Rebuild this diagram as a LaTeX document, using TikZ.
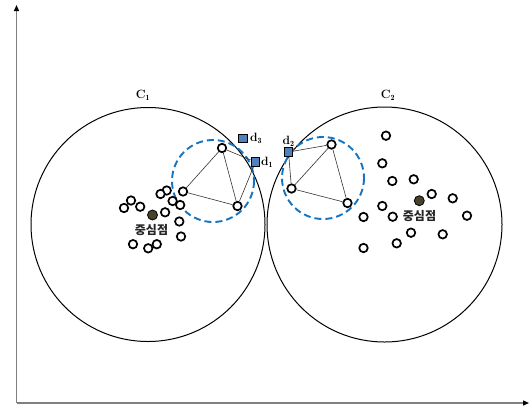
\documentclass[tikz,border=0pt]{standalone}
\usepackage{fontspec}
\newfontfamily\kor{Noto Sans CJK KR}
\usetikzlibrary{arrows.meta}
\definecolor{rangeblue}{RGB}{20,115,195}
\definecolor{sqfill}{RGB}{79,129,189}
\definecolor{hubfill}{RGB}{70,66,45}
\definecolor{axisgray}{RGB}{128,128,128}
\tikzset{
  member/.style={circle,draw=black,line width=1.7pt,fill=white,minimum size=8.5pt,inner sep=0pt},
  hub/.style={circle,draw=black,line width=0.8pt,fill=hubfill,minimum size=10pt,inner sep=0pt},
  sqnode/.style={rectangle,draw=black,line width=1.4pt,fill=sqfill,minimum size=8.5pt,inner sep=0pt},
  cluster/.style={draw=black,line width=1pt},
  commrange/.style={draw=rangeblue,line width=1.9pt,dash pattern=on 7pt off 4pt},
  link/.style={draw=black!80,line width=0.6pt},
  axisline/.style={draw=axisgray,line width=1.3pt,-{Triangle[length=6pt,width=5pt,fill=black,color=black]}},
  lbl/.style={font=\bfseries\fontsize{12}{14}\selectfont,inner sep=1pt},
  kr/.style={font=\kor\bfseries\fontsize{12}{14}\selectfont,text=black!85,inner sep=0pt}
}
\begin{document}
\begin{tikzpicture}[x=1pt,y=-1pt]
\useasboundingbox (0,0) rectangle (532,405);
% axes
\coordinate (o) at (16.5,403);
\coordinate (ytop) at (16.5,5);
\coordinate (xend) at (529,403);
\draw[axisline] (o) -- (ytop);
\draw[axisline] (o) -- (xend);

% clusters
\draw[cluster] (148,224.5) circle (117);
\draw[cluster] (384.5,224.5) circle (117.5);
\node[lbl] (c1) at (143,95) {C$_{\mathbf 1}$};
\node[lbl] (c2) at (388,95) {C$_{\mathbf 2}$};

% communication ranges
\draw[commrange] (213,181) circle (41);
\draw[commrange] (323,178) circle (41);

% first group with d1
\node[member] (a1) at (222,148) {};
\node[member] (a2) at (183,191.5) {};
\node[member] (a3) at (237.5,206) {};
\node[sqnode] (d1) at (255.5,162) {};
\node[sqnode] (d3) at (243,138.5) {};
\draw[link] (a1) -- (a2);
\draw[link] (a2) -- (a3);
\draw[link] (a1) -- (a3);
\draw[link] (a3) -- (d1);
\draw[link] (a1) -- (d1);
\node[lbl,anchor=west] (l1) at ([xshift=-0.5pt]d1.east) {d$_{\mathbf 1}$};
\node[lbl,anchor=west] (l3) at ([xshift=1pt]d3.east) {d$_{\mathbf 3}$};

% second group with d2
\node[member] (b1) at (331.5,144.5) {};
\node[member] (b2) at (291.5,188.5) {};
\node[member] (b3) at (347.5,203) {};
\node[sqnode] (d2) at (288.5,152) {};
\draw[link] (d2) -- (b1);
\draw[link] (d2) -- (b2);
\draw[link] (b1) -- (b2);
\draw[link] (b1) -- (b3);
\draw[link] (b2) -- (b3);
\node[lbl,anchor=south] (l2) at ([yshift=-0.5pt]d2.north) {d$_{\mathbf 2}$};

% members of C1
\node[member] (p1) at (166.7,190.5) {};
\node[member] (p2) at (160.5,194) {};
\node[member] (p3) at (131,200.5) {};
\node[member] (p4) at (124,208) {};
\node[member] (p5) at (140.2,206.7) {};
\node[member] (p6) at (172.6,201) {};
\node[member] (p7) at (180.2,205) {};
\node[member] (p8) at (165.1,212.3) {};
\node[member] (p9) at (179.3,221.5) {};
\node[member] (p10) at (181,236.5) {};
\node[member] (p11) at (133,244.2) {};
\node[member] (p12) at (148.2,248.3) {};
\node[member] (p13) at (156.8,244.2) {};
\node[hub] (h1) at (152.5,215) {};
\node[kr] (k1) at (151.5,230.5) {중심점};

% members of C2
\node[member] (q1) at (386,135.7) {};
\node[member] (q2) at (382.3,163.3) {};
\node[member] (q3) at (392.3,181) {};
\node[member] (q4) at (413.7,179.3) {};
\node[member] (q5) at (431.7,194) {};
\node[member] (q6) at (452.7,198.3) {};
\node[member] (q7) at (382.3,206) {};
\node[member] (q8) at (392.7,216.7) {};
\node[member] (q9) at (363.5,217) {};
\node[member] (q10) at (467,215.7) {};
\node[member] (q11) at (411,232.7) {};
\node[member] (q12) at (442.7,234.3) {};
\node[member] (q13) at (396.7,243.3) {};
\node[member] (q14) at (363.5,248) {};
\node[hub] (h2) at (419.3,200.7) {};
\node[kr] (k2) at (419.5,216) {중심점};
\end{tikzpicture}
\end{document}
